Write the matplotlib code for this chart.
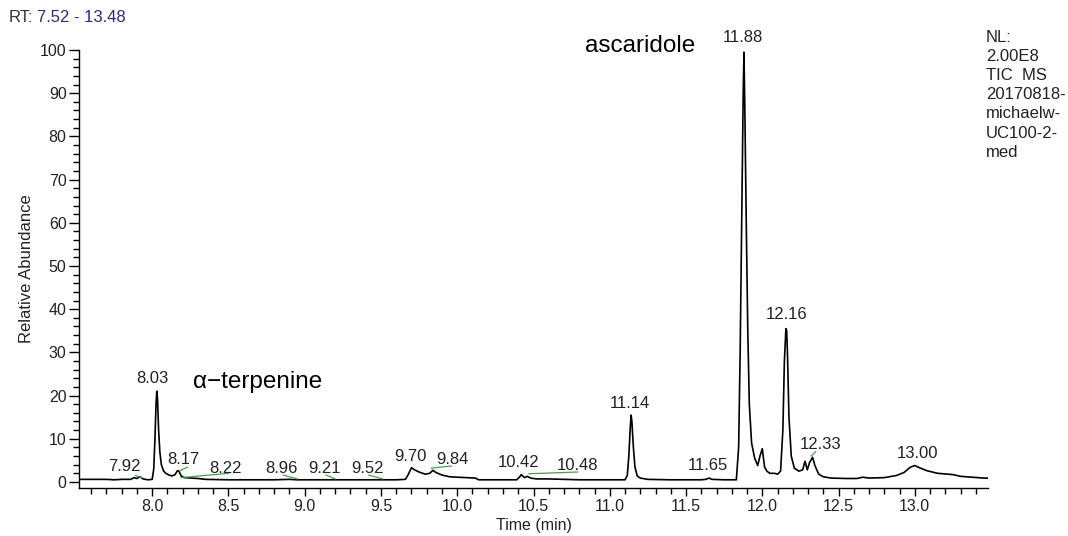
import matplotlib
matplotlib.use("Agg")
import matplotlib.pyplot as plt
from matplotlib.ticker import MultipleLocator, FormatStrFormatter

plt.rcParams['font.family'] = ['Liberation Sans', 'DejaVu Sans']

# ---- chromatogram trace (time in min, relative abundance %) ----
time_min = [7.52, 7.60, 7.70, 7.75, 7.80, 7.86, 7.88, 7.90, 7.92, 7.94, 7.97, 8.00,
            8.010, 8.018, 8.025, 8.030, 8.035, 8.042, 8.050, 8.060, 8.075, 8.09, 8.11,
            8.13, 8.15, 8.165, 8.175, 8.19, 8.21, 8.25, 8.30, 8.35, 8.50, 8.80, 8.90,
            8.95, 9.00, 9.30, 9.60, 9.66, 9.68, 9.70, 9.72, 9.75, 9.79, 9.82, 9.84,
            9.86, 9.90, 9.95, 10.00, 10.12, 10.14, 10.30, 10.39, 10.41, 10.42, 10.44,
            10.46, 10.48, 10.52, 10.60, 10.80, 11.00, 11.10, 11.115, 11.125, 11.135,
            11.14, 11.145, 11.155, 11.165, 11.18, 11.20, 11.25, 11.40, 11.60, 11.63,
            11.65, 11.67, 11.75, 11.83, 11.845, 11.855, 11.865, 11.875, 11.88, 11.885,
            11.895, 11.905, 11.915, 11.93, 11.95, 11.97, 11.985, 12.00, 12.015, 12.03,
            12.05, 12.08, 12.10, 12.12, 12.135, 12.145, 12.155, 12.16, 12.165, 12.175,
            12.19, 12.21, 12.24, 12.265, 12.28, 12.295, 12.31, 12.33, 12.345, 12.37,
            12.40, 12.45, 12.55, 12.62, 12.66, 12.70, 12.80, 12.88, 12.93, 12.97,
            13.00, 13.03, 13.08, 13.15, 13.25, 13.30, 13.38, 13.45, 13.48]
abundance = [0.6, 0.6, 0.6, 0.5, 0.6, 0.6, 1.0, 0.8, 1.2, 0.7, 0.5, 0.6,
             3.0, 10, 18, 21, 19, 12, 7, 4, 2.5, 2.0, 1.6,
             1.4, 1.7, 2.6, 2.5, 1.4, 1.0, 0.9, 0.8, 0.6, 0.5, 0.5, 0.6,
             0.5, 0.5, 0.5, 0.5, 0.6, 1.8, 3.3, 2.8, 2.3, 1.8, 2.0, 2.7,
             2.2, 1.6, 1.2, 1.1, 0.9, 0.5, 0.5, 0.5, 1.2, 1.7, 1.0,
             1.3, 0.9, 0.7, 0.7, 0.5, 0.5, 0.5, 1.5, 6, 13,
             15.5, 14, 8, 3.5, 1.4, 0.9, 0.6, 0.5, 0.5, 0.6,
             0.9, 0.6, 0.5, 0.5, 8, 30, 60, 90, 99.5, 88,
             60, 35, 18, 9, 5.5, 3.8, 6, 7.7, 3.5, 2.5,
             2.0, 2.0, 1.8, 2.5, 12, 28, 35.5, 35, 30, 15,
             6, 3.2, 2.5, 2.8, 4.8, 2.8, 4.5, 5.7, 3.8, 1.8,
             1.2, 0.9, 0.8, 0.8, 1.1, 0.9, 1.0, 1.5, 2.2, 3.4,
             3.8, 3.3, 2.6, 2.0, 1.7, 1.3, 1.1, 0.9, 0.9]

# ---- peak labels (text, x in min, y in %) ----
peak_labels = ["7.92", "8.03", "8.17", "8.22", "8.96", "9.21", "9.52", "9.70", "9.84",
               "10.42", "10.48", "11.14", "11.65", "11.88", "12.16", "12.33", "13.00"]
label_x = [7.82, 8.00, 8.205, 8.48, 8.85, 9.13, 9.41, 9.69, 9.97,
           10.40, 10.79, 11.135, 11.645, 11.87, 12.16, 12.38, 13.02]
label_y = [3.5, 23.9, 5.3, 3.2, 3.2, 3.2, 3.2, 5.8, 5.1,
           4.4, 3.9, 18.1, 3.7, 103.0, 38.7, 8.6, 6.5]

# ---- green integration markers (t0, v0, t1, v1) ----
marker_t0 = [7.89, 8.18, 8.19, 8.86, 9.14, 9.42, 9.83, 10.47, 12.32]
marker_v0 = [1.5, 2.6, 1.0, 1.6, 1.6, 1.6, 3.2, 1.9, 6.0]
marker_t1 = [7.93, 8.23, 8.50, 8.95, 9.20, 9.51, 9.96, 10.79, 12.35]
marker_v1 = [1.0, 3.4, 2.0, 0.7, 0.7, 0.7, 3.7, 2.3, 7.0]

nl_lines = ["NL:", "2.00E8", "TIC  MS", "20170818-", "michaelw-", "UC100-2-", "med"]

W, H = 1068, 536
fig = plt.figure(figsize=(W / 100, H / 100), dpi=100)
ax = fig.add_axes([79 / W, 1 - 488 / H, 909 / W, (488 - 50) / H])

ax.plot(time_min, abundance, color='black', lw=1.2)
for a, b, c, d in zip(marker_t0, marker_v0, marker_t1, marker_v1):
    ax.plot([a, c], [b, d], color='#4aa04a', lw=0.9)

for s, x, y in zip(peak_labels, label_x, label_y):
    ax.text(x, y, s, ha='center', va='center', fontsize=12, color='#222222', clip_on=False)

ax.text(11.56, 101.0, "ascaridole", ha='right', va='center', fontsize=17.5,
        color='black', clip_on=False)
ax.text(8.27, 23.2, "\u03b1\u2212terpenine", ha='left', va='center', fontsize=17.5,
        color='black')

ax.set_xlim(7.52, 13.48)
ax.set_ylim(-1.4, 100)
for sp in ['top', 'right']:
    ax.spines[sp].set_visible(False)
for sp in ['left', 'bottom']:
    ax.spines[sp].set_linewidth(1.0)

ax.xaxis.set_major_locator(MultipleLocator(0.5))
ax.xaxis.set_minor_locator(MultipleLocator(0.1))
ax.xaxis.set_major_formatter(FormatStrFormatter('%.1f'))
ax.yaxis.set_major_locator(MultipleLocator(10))
ax.yaxis.set_minor_locator(MultipleLocator(2))
ax.tick_params(axis='both', which='major', length=7, width=1, direction='out',
               labelsize=11.5, colors='black', labelcolor='#222222', pad=2)
ax.tick_params(axis='both', which='minor', length=4, width=1, direction='out')
ax.tick_params(axis='x', which='major', length=6, pad=2)

ax.set_xlabel("Time (min)", fontsize=11.5, color='#222222', labelpad=3)
ax.set_ylabel("Relative Abundance", fontsize=12, color='#222222', labelpad=4)

fig.text(9 / W, 1 - 18 / H, "RT:", ha='left', va='center', fontsize=12, color='#333333')
fig.text(37 / W, 1 - 18 / H, "7.52 - 13.48", ha='left', va='center', fontsize=12,
         color='#2b2b80')

for i, line in enumerate(nl_lines):
    fig.text(986 / W, 1 - (37 + i * 19.2) / H, line, ha='left', va='center',
             fontsize=12, color='#222222')

fig.savefig("out.png", dpi=100)
